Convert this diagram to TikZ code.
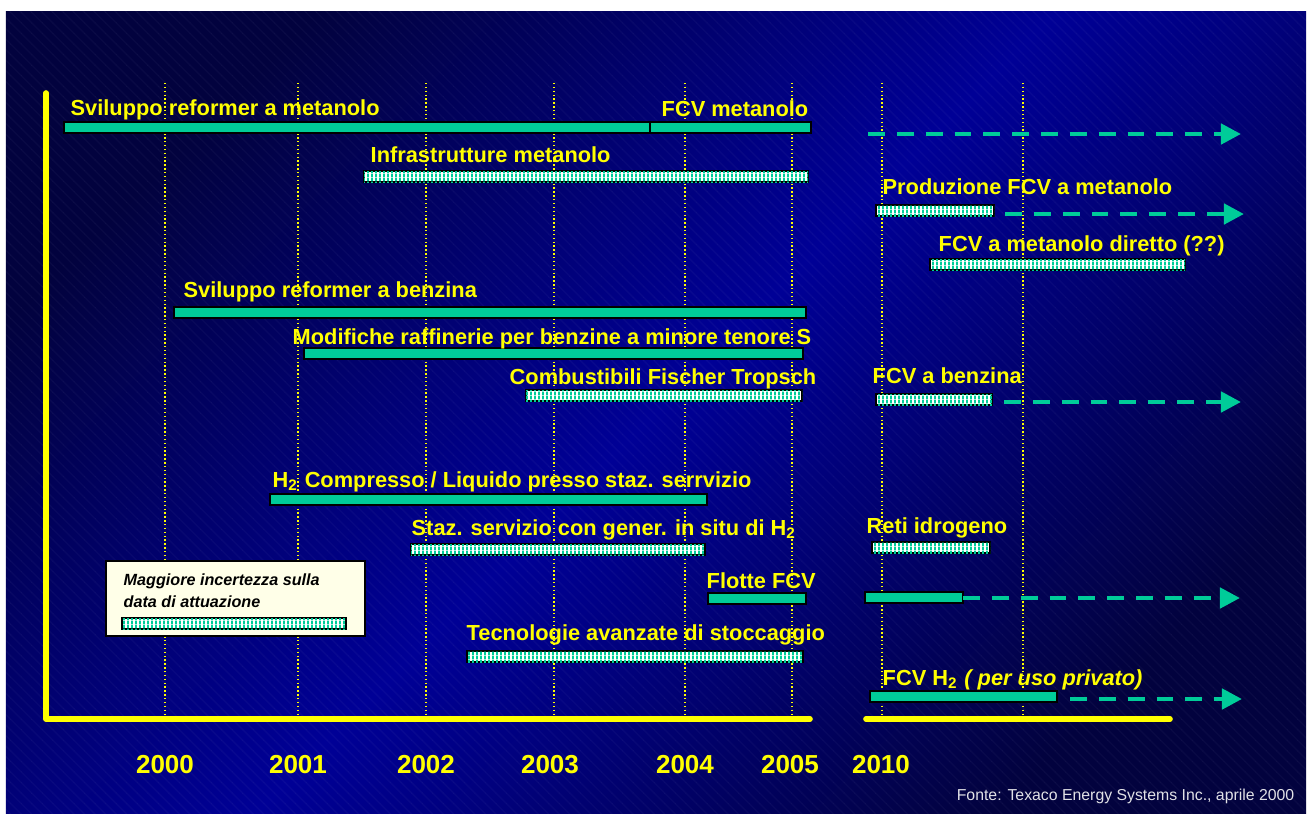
\documentclass[tikz,border=0pt]{standalone}
\usepackage{fontspec}
\setmainfont{Liberation Sans}
\usetikzlibrary{arrows.meta, patterns}
\definecolor{fcvgreen}{RGB}{0,204,153}
\definecolor{fcvyellow}{RGB}{255,255,0}
\definecolor{bgdark}{RGB}{2,2,62}
\definecolor{bglight}{RGB}{0,0,150}
\definecolor{notecream}{RGB}{255,255,232}
\definecolor{sourcegray}{RGB}{225,225,230}
% thin vertical stripes for the uncertain bars
\pgfdeclarepatternformonly{fcvstripes}{\pgfpointorigin}{\pgfpoint{1.1pt}{1pt}}%
  {\pgfpoint{1.1pt}{1pt}}%
  {\pgfpathrectangle{\pgfpointorigin}{\pgfpoint{0.55pt}{1pt}}\pgfusepath{fill}}

\begin{document}
\begin{tikzpicture}[x=0.01cm, y=-0.01cm,
  lbl/.style={anchor=base west, inner sep=0pt, text=fcvyellow,
              font=\bfseries\fontsize{6.2}{7}\selectfont},
  yearlbl/.style={anchor=base, inner sep=0pt, text=fcvyellow,
                  font=\bfseries\fontsize{7.4}{9}\selectfont},
  notelbl/.style={anchor=base west, inner sep=0pt, text=black,
                  font=\bfseries\itshape\fontsize{4.6}{6}\selectfont},
  solidbar/.style={draw=black, fill=fcvgreen, line width=0.6pt},
  hatchbar/.style={draw=black, fill=white, line width=0.6pt,
                   postaction={pattern=fcvstripes, pattern color=fcvgreen}},
  trend/.style={draw=fcvgreen, line width=1.3pt, dash pattern=on 4.8pt off 3.4pt,
                -{Triangle[length=0.2cm, width=0.2cm]}},
  gridline/.style={fcvyellow, line width=0.35pt, dash pattern=on 0.4pt off 0.7pt},
  axisline/.style={fcvyellow, line width=1.6pt, line cap=round, line join=round}]

  \useasboundingbox (0,0) rectangle (1311,814);
  \fill[white] (0,0) rectangle (1311,814);
  \shade[top color=bgdark, bottom color=bgdark, middle color=bglight, shading angle=45]
    (6,11) rectangle (1306,813);
  \fill[pattern=north west lines, pattern color=white, opacity=0.03] (6,11) rectangle (1306,813);

  % year grid and axis
  \foreach \gx in {165,298,426,554,685,792,882,1023}
    \draw[gridline] (\gx,83) -- (\gx,716);
  \draw[axisline] (46,93) -- (46,719) -- (810,719);
  \draw[axisline] (866,719) -- (1170,719);

  \foreach \yr/\gx in {2000/165,2001/298,2002/426,2003/550,2004/685,2005/790,2010/881}
    \node[yearlbl] (y\yr) at (\gx,773) {\yr};

  % bars
  \foreach \xa/\xb/\ya in {64/650/122, 650/811/122, 174/806/307, 304/803/348,
                           270/707/494, 708/806/593, 865/963/592, 870/1057/691}
    \draw[solidbar] (\xa,\ya) rectangle (\xb,\ya+11);
  \foreach \xa/\xb/\ya in {364/808/171, 876/994/205, 930/1185/259, 526/802/390,
                           876/992/394, 411/705/544, 872/990/542, 467/803/651}
    \draw[hatchbar] (\xa,\ya) rectangle (\xb,\ya+11);

  % trends after 2010
  \foreach \i/\xa/\xb/\ya in {1/868/1241/134, 2/1005/1244/214, 3/1004/1241/402,
                              4/963/1240/598, 5/1070/1242/699} {
    \coordinate (ts\i) at (\xa,\ya);
    \coordinate (te\i) at (\xb,\ya);
    \draw[trend] (ts\i) -- (te\i);
  }

  % labels
  \node[lbl] (refmet)  at (70,115)  {Sviluppo reformer a metanolo};
  \node[lbl] (fcvmet)  at (661,116) {FCV metanolo};
  \node[lbl] (infra)   at (370,162) {Infrastrutture metanolo};
  \node[lbl] (prod)    at (882,194) {Produzione FCV a metanolo};
  \node[lbl] (diretto) at (938,251) {FCV a metanolo diretto (??)};
  \node[lbl] (refbenz) at (183,297) {Sviluppo reformer a benzina};
  \node[lbl] (raff)    at (292,344) {Modifiche raffinerie per benzine a minore tenore S};
  \node[lbl] (fischer) at (509,384) {Combustibili Fischer Tropsch};
  \node[lbl] (fcvbenz) at (872,383) {FCV a benzina};
  \node[lbl] (compr)   at (272,487) {H\textsubscript{2} Compresso / Liquido presso staz. serrvizio};
  \node[lbl] (situ)    at (411,535) {Staz. servizio con gener. in situ di H\textsubscript{2}};
  \node[lbl] (reti)    at (866,533) {Reti idrogeno};
  \node[lbl] (flotte)  at (706,588) {Flotte FCV};
  \node[lbl] (stocc)   at (466,640) {Tecnologie avanzate di stoccaggio};
  \node[lbl] (privato) at (882,685) {FCV H\textsubscript{2} \textit{( per uso privato)}};

  % legend
  \draw[fill=notecream, line width=0.5pt] (106,561) rectangle (365,636);
  \node[notelbl] (note1) at (123,585) {Maggiore incertezza sulla};
  \node[notelbl] (note2) at (123,607) {data di attuazione};
  \draw[hatchbar] (122,618) rectangle (346,629);

  \node[anchor=base east, inner sep=0pt, text=sourcegray,
        font=\fontsize{4.5}{6}\selectfont] (fonte) at (1295,800)
    {Fonte: Texaco Energy Systems Inc., aprile 2000};
\end{tikzpicture}
\end{document}
